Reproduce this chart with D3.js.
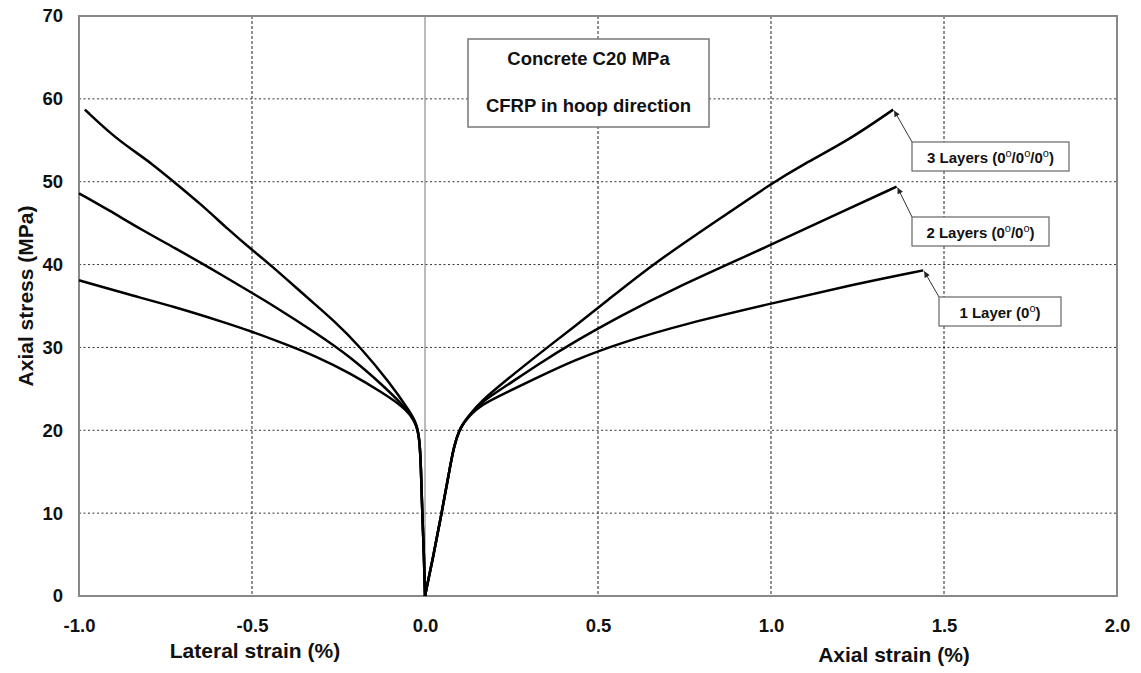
<!DOCTYPE html>
<html>
<head>
<meta charset="utf-8">
<script src="https://cdn.jsdelivr.net/npm/d3@7"></script>
<style>
  body { margin: 0; background: #fff; }
  text { font-family: "Liberation Sans", Arial, sans-serif; font-weight: bold; fill: #111; }
</style>
</head>
<body>
<div id="chart"></div>
<script>
// tick values
var xTicks = [-1.0, -0.5, 0.0, 0.5, 1.0, 1.5, 2.0];
var yTicks = [0, 10, 20, 30, 40, 50, 60, 70];

// lateral strain branches (strain %, stress MPa)
var lat1 = [[0,0],[-0.003,5],[-0.008,10],[-0.012,16],[-0.016,19],[-0.025,20.7],[-0.043,21.9],[-0.063,22.8],[-0.121,24.5],[-0.217,26.9],[-0.313,28.9],[-0.410,30.5],[-0.506,32.0],[-0.578,33.0],[-0.723,34.9],[-0.867,36.5],[-1.0,38.1]];
var lat2 = [[0,0],[-0.003,5],[-0.008,10],[-0.012,16],[-0.016,19],[-0.025,20.8],[-0.043,22.0],[-0.063,23.0],[-0.121,25.4],[-0.217,28.9],[-0.313,31.7],[-0.448,35.3],[-0.501,36.6],[-0.626,39.7],[-0.723,42.0],[-0.819,44.2],[-0.915,46.6],[-1.0,48.6]];
var lat3 = [[0,0],[-0.003,5],[-0.008,10],[-0.012,16],[-0.016,19],[-0.025,20.9],[-0.043,22.2],[-0.101,25.7],[-0.188,30.1],[-0.265,33.3],[-0.332,35.7],[-0.453,40.2],[-0.501,41.8],[-0.568,44.2],[-0.645,47.2],[-0.732,50.2],[-0.790,52.2],[-0.848,53.9],[-0.906,55.7],[-0.983,58.7]];

// axial strain branches
var ax1 = [[0,0],[0.025,5],[0.048,10],[0.070,15],[0.082,17.8],[0.101,20.4],[0.130,21.8],[0.159,23.0],[0.236,24.6],[0.332,26.5],[0.428,28.4],[0.561,30.5],[0.756,32.9],[1.002,35.3],[1.238,37.6],[1.440,39.3]];
var ax2 = [[0,0],[0.025,5],[0.048,10],[0.070,15],[0.082,17.8],[0.101,20.4],[0.130,21.9],[0.159,23.3],[0.236,25.4],[0.332,28.1],[0.428,30.6],[0.561,33.7],[0.708,36.9],[1.002,42.4],[1.190,46.1],[1.363,49.4]];
var ax3 = [[0,0],[0.025,5],[0.048,10],[0.070,15],[0.082,17.8],[0.101,20.4],[0.130,21.9],[0.159,23.4],[0.236,26.1],[0.332,29.3],[0.428,32.4],[0.525,35.6],[0.660,40.1],[0.833,45.0],[1.002,49.8],[1.093,52.1],[1.228,55.1],[1.353,58.7]];

// labels (odd parts are superscripts)
var seriesNames = [
  ["1 Layer (0", "o", ")"],
  ["2 Layers (0", "o", "/0", "o", ")"],
  ["3 Layers (0", "o", "/0", "o", "/0", "o", ")"]
];
var noteLines = ["Concrete C20 MPa", "CFRP in hoop direction"];

var W = 1141, H = 673;
var margin = {top: 16, right: 24, bottom: 77, left: 79},
    width = W - margin.left - margin.right,
    height = H - margin.top - margin.bottom;

var svg = d3.select("#chart")
  .append("svg")
    .attr("width", W)
    .attr("height", H)
  .append("g")
    .attr("transform", "translate(" + margin.left + "," + margin.top + ")");

var x = d3.scaleLinear().domain([-1, 2]).range([0, width]);
var y = d3.scaleLinear().domain([0, 70]).range([height, 0]);

// grid
svg.append("g")
  .selectAll("line")
  .data(xTicks.filter(d => d > -1 && d < 2 && d !== 0))
  .enter().append("line")
    .attr("x1", d => x(d)).attr("x2", d => x(d))
    .attr("y1", 0).attr("y2", height)
    .attr("stroke", "#222").attr("stroke-width", 1)
    .attr("stroke-dasharray", "3,2");

svg.append("g")
  .selectAll("line")
  .data(yTicks.filter(d => d > 0 && d < 70))
  .enter().append("line")
    .attr("x1", 0).attr("x2", width)
    .attr("y1", d => y(d)).attr("y2", d => y(d))
    .attr("stroke", "#333").attr("stroke-width", 1)
    .attr("stroke-dasharray", "2,2.5");

// zero line
svg.append("line")
  .attr("x1", x(0)).attr("x2", x(0))
  .attr("y1", 0).attr("y2", height)
  .attr("stroke", "#777").attr("stroke-width", 1);

// frame
svg.append("rect")
  .attr("x", 0).attr("y", 0)
  .attr("width", width).attr("height", height)
  .attr("fill", "none")
  .attr("stroke", "#888").attr("stroke-width", 2);

// axes
var xAxis = svg.append("g")
  .attr("transform", "translate(0," + height + ")")
  .call(d3.axisBottom(x).tickValues(xTicks).tickSize(0).tickPadding(23)
    .tickFormat(d => d.toFixed(1)));
var yAxis = svg.append("g")
  .call(d3.axisLeft(y).tickValues(yTicks).tickSize(0).tickPadding(16));

[xAxis, yAxis].forEach(a => {
  a.select(".domain").remove();
  a.selectAll("text")
    .attr("fill", "#111")
    .style("font-size", "18.5px")
    .style("font-family", "'Liberation Sans', Arial, sans-serif")
    .style("font-weight", "bold");
});

// axis titles
svg.append("text")
  .attr("x", 255 - margin.left).attr("y", 658 - margin.top)
  .attr("text-anchor", "middle")
  .style("font-size", "21px")
  .text("Lateral strain (%)");

svg.append("text")
  .attr("x", 894 - margin.left).attr("y", 662 - margin.top)
  .attr("text-anchor", "middle")
  .style("font-size", "21px")
  .text("Axial strain (%)");

svg.append("text")
  .attr("transform", "translate(" + (33 - margin.left) + "," + (296 - margin.top) + ") rotate(-90)")
  .attr("text-anchor", "middle")
  .style("font-size", "21px")
  .text("Axial stress (MPa)");

// curves
var line = d3.line()
  .x(d => x(d[0]))
  .y(d => y(d[1]))
  .curve(d3.curveBasis);

svg.append("g")
  .selectAll("path")
  .data([lat1, lat2, lat3, ax1, ax2, ax3])
  .enter().append("path")
    .attr("d", line)
    .attr("fill", "none")
    .attr("stroke", "#000")
    .attr("stroke-width", 2.5)
    .attr("stroke-linejoin", "round");

// note box
svg.append("rect")
  .attr("x", 468 - margin.left).attr("y", 39 - margin.top)
  .attr("width", 241).attr("height", 88)
  .attr("fill", "#fff")
  .attr("stroke", "#777").attr("stroke-width", 1.5);

svg.selectAll(".note")
  .data(noteLines)
  .enter().append("text")
    .attr("class", "note")
    .attr("x", 588.5 - margin.left)
    .attr("y", (d, i) => (i === 0 ? 65 : 112) - margin.top)
    .attr("text-anchor", "middle")
    .style("font-size", "18.5px")
    .text(d => d);

// arrow head
svg.append("defs").append("marker")
  .attr("id", "head")
  .attr("viewBox", "0 0 10 10")
  .attr("refX", 10).attr("refY", 5)
  .attr("markerWidth", 7).attr("markerHeight", 6)
  .attr("markerUnits", "userSpaceOnUse")
  .attr("orient", "auto")
  .append("path")
    .attr("d", "M0,0L10,5L0,10z")
    .attr("fill", "#222");

// series labels: box [left, top, width, height] in page pixels
var boxes = [[939, 297, 122, 29], [912, 217, 137, 29], [912, 142, 157, 29]];
var ends = [ax1, ax2, ax3].map(s => s[s.length - 1]);

seriesNames.forEach((parts, i) => {
  var b = boxes[i], e = ends[i];
  var bx = b[0] - margin.left, by = b[1] - margin.top;

  svg.append("line")
    .attr("x1", bx).attr("y1", by)
    .attr("x2", x(e[0]) + 1).attr("y2", y(e[1]) + 1)
    .attr("stroke", "#333").attr("stroke-width", 1)
    .attr("marker-end", "url(#head)");

  svg.append("rect")
    .attr("x", bx).attr("y", by)
    .attr("width", b[2]).attr("height", b[3])
    .attr("fill", "#fff")
    .attr("stroke", "#666").attr("stroke-width", 1.2);

  var t = svg.append("text")
    .attr("x", bx + b[2] / 2)
    .attr("y", by + 21)
    .attr("text-anchor", "middle")
    .style("font-size", "15px");

  parts.forEach((p, j) => {
    var sup = j % 2 === 1;
    t.append("tspan")
      .attr("dy", sup ? -6 : (j > 0 ? 6 : 0))
      .style("font-size", sup ? "11px" : "15px")
      .style("font-weight", sup ? "normal" : "bold")
      .text(p);
  });
});
</script>
</body>
</html>
